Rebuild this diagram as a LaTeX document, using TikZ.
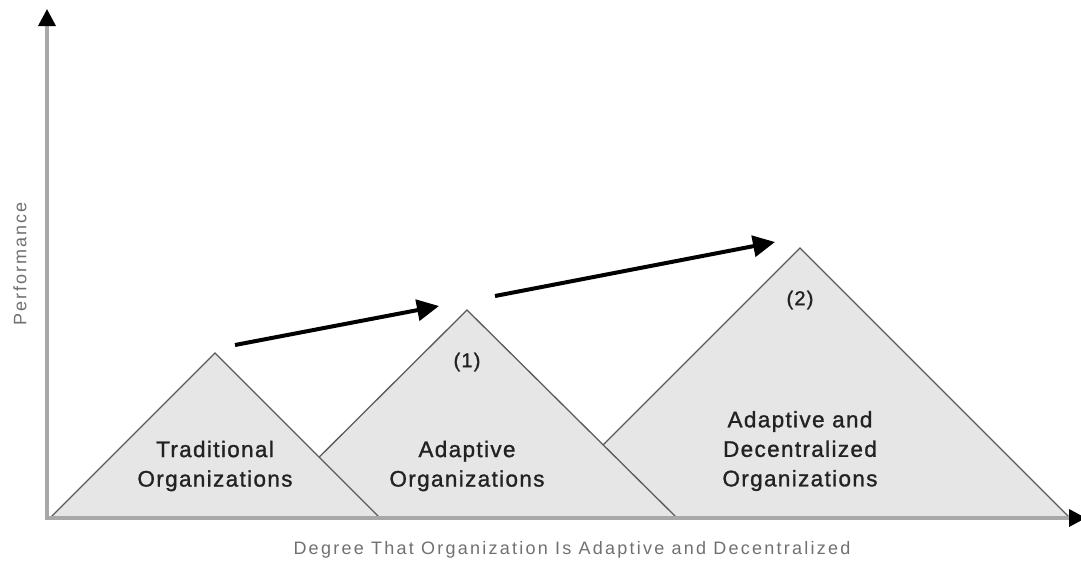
\documentclass[tikz,border=0pt]{standalone}
\usepackage{fontspec}
\setmainfont{Liberation Sans}
\newfontfamily\innerfont[LetterSpace=6,FakeBold=1.2]{Liberation Sans}
\newfontfamily\axisfont[LetterSpace=11]{Liberation Sans}
\newfontfamily\wideaxisfont[LetterSpace=12.5]{Liberation Sans}
\usetikzlibrary{arrows.meta}
\definecolor{triface}{HTML}{E6E6E6}
\definecolor{triedge}{HTML}{5A5A5A}
\definecolor{axisgray}{HTML}{A8A8A8}
\definecolor{labelgray}{HTML}{707070}
\definecolor{textdark}{HTML}{222222}
\tikzset{
  tri/.style={fill=triface, draw=triedge, line width=1.3pt, line join=miter},
  axisline/.style={draw=axisgray, line width=3.5pt,
    -{Triangle[length=17pt,width=17pt,color=black]}},
  trend/.style={draw=black, line width=4pt,
    -{Triangle[length=22pt,width=21pt]}},
  orgtext/.style={align=center, text=textdark, font=\innerfont\fontsize{22.5}{29.5}\selectfont, inner sep=0pt},
  marktext/.style={text=textdark, font=\innerfont\fontsize{20}{22}\selectfont, inner sep=0pt},
  axistext/.style={text=labelgray, font=\axisfont\fontsize{18}{20}\selectfont, inner sep=0pt},
  xaxistext/.style={text=labelgray, font=\wideaxisfont\fontsize{18}{20}\selectfont, inner sep=0pt}
}
\begin{document}
\begin{tikzpicture}[x=1pt,y=-1pt]
\useasboundingbox (0,0) rectangle (1081,563);

% three overlapping triangles, back to front
\filldraw[tri] (530,518) -- (800,248) -- (1070,518) -- cycle;
\filldraw[tri] (258,518) -- (467,310) -- (677,518) -- cycle;
\filldraw[tri] (50,518) -- (215,353) -- (380,518) -- cycle;

% axes
\coordinate (origin) at (47,518);
\coordinate (ytop) at (47,9);
\coordinate (xend) at (1086,518);
\draw[axisline] (origin) -- (ytop);
\draw[axisline] ([xshift=-1.75pt]origin) -- (xend);

% trend arrows
\coordinate (a1s) at (235,345);
\coordinate (a1e) at (439,306);
\coordinate (a2s) at (495,296);
\coordinate (a2e) at (775,242);
\draw[trend] (a1s) -- (a1e);
\draw[trend] (a2s) -- (a2e);

% labels inside the triangles
\node[orgtext] (trad) at (215,466) {Traditional\\Organizations};
\node[orgtext] (adapt) at (467,466) {Adaptive\\Organizations};
\node[orgtext] (adec) at (800,451) {Adaptive and\\Decentralized\\Organizations};
\node[marktext] (m1) at (467,362) {(1)};
\node[marktext] (m2) at (800,300) {(2)};

% axis labels
\node[axistext, rotate=90] (ylab) at (20,264) {Performance};
\node[xaxistext] (xlab) at (572,550) {Degree That Organization Is Adaptive and Decentralized};
\end{tikzpicture}
\end{document}
